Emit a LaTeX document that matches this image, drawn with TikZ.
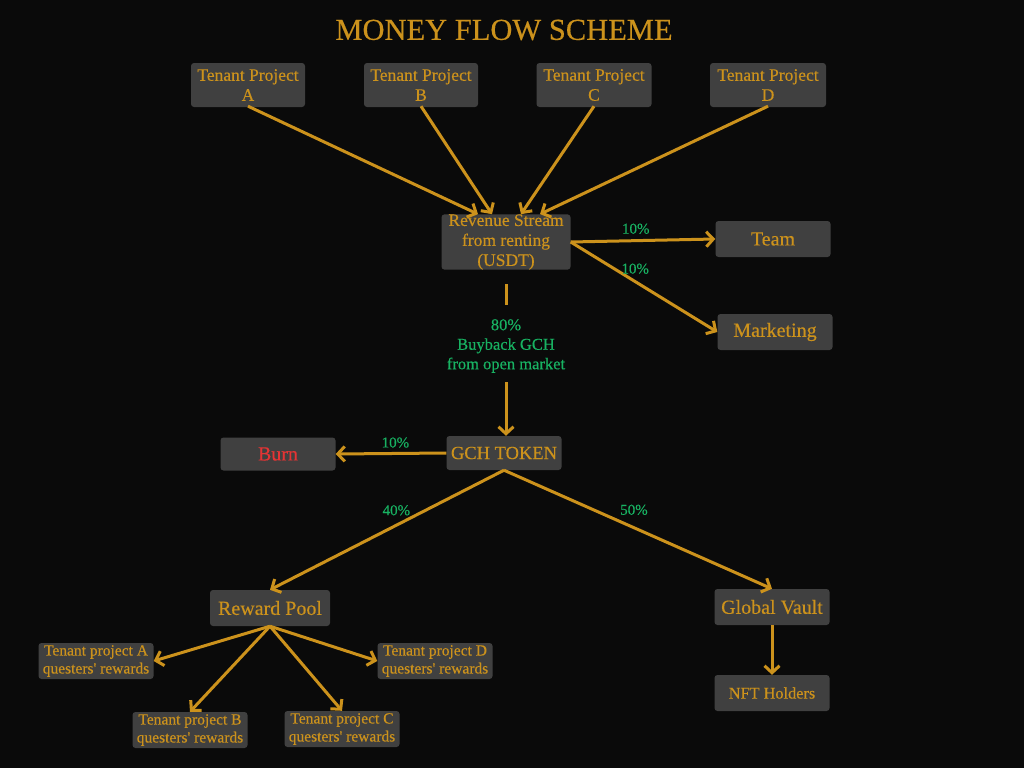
\documentclass[tikz,border=0pt]{standalone}
\usepackage{fontspec}
\setmainfont{Liberation Serif}[FakeBold=0.35]
\usetikzlibrary{positioning}
\usetikzlibrary{shapes,arrows.meta}
\definecolor{bgdark}{RGB}{10,10,10}
\definecolor{boxgray}{RGB}{64,64,64}
\definecolor{gold}{RGB}{204,146,28}
\definecolor{mint}{RGB}{24,178,98}
\definecolor{burnred}{RGB}{228,52,52}
\tikzstyle{block} = [rectangle, fill=boxgray, text=gold, rounded corners=3pt,
    align=center, inner sep=0pt, minimum width=115pt, minimum height=36pt,
    font=\fontsize{20}{20}\selectfont]
\tikzstyle{small} = [block, minimum height=44pt, font=\fontsize{17.5}{20}\selectfont]
\tikzstyle{reward} = [block, minimum height=36pt, font=\fontsize{15.5}{18}\selectfont]
\tikzstyle{pct} = [text=mint, align=center, font=\fontsize{15}{20}\selectfont]
\tikzstyle{line} = [draw, gold, line width=3pt, -{Straight Barb[length=7pt,width=15pt,line width=3pt]}]

\begin{document}
\begin{tikzpicture}[x=1pt, y=-1pt]
    \fill [bgdark] (0,0) rectangle (1024,768);
    \useasboundingbox (0,0) rectangle (1024,768);
        % Nodes
    \node [text=gold, font=\fontsize{30.5}{31}\selectfont] (title) at (504,30) {MONEY FLOW SCHEME};
    \node [small, minimum width=114pt] (ta) at (248,85) {Tenant Project\\A};
    \node [small, minimum width=114pt] (tb) at (421,85) {Tenant Project\\B};
    \node [small, minimum width=115pt] (tc) at (594,85) {Tenant Project\\C};
    \node [small, minimum width=116pt] (td) at (768,85) {Tenant Project\\D};
    \node [small, minimum width=129pt, minimum height=54pt] (rev) at (506,242) {Revenue Stream\\from renting\\(USDT)};
    \node [block] (team) at (773,239) {Team};
    \node [block] (mkt) at (775,332) {Marketing};
    \coordinate (stubtop) at (506,284);
    \coordinate (stubend) at (506,305);
    \node [pct, font=\fontsize{16.5}{19.5}\selectfont] (buy) at (506,346) {80\%\\Buyback GCH\\from open market};
    \node [block, minimum height=34pt, font=\fontsize{18.5}{20}\selectfont] (gch) at (504,453) {GCH TOKEN};
    \node [block, minimum height=33pt, text=burnred] (burn) at (278,454) {Burn};
    \node [block, minimum width=120pt] (pool) at (270,608) {Reward Pool};
    \node [block] (vault) at (772,607) {Global Vault};
    \node [block, font=\fontsize{16.3}{18}\selectfont] (nft) at (772,693) {NFT Holders};
    \node [reward] (ra) at (96,661) {Tenant project A\\questers\textquotesingle{} rewards};
    \node [reward] (rb) at (190,730) {Tenant project B\\questers\textquotesingle{} rewards};
    \node [reward] (rc) at (342,729) {Tenant project C\\questers\textquotesingle{} rewards};
    \node [reward] (rd) at (435,661) {Tenant project D\\questers\textquotesingle{} rewards};
        % Edges
    \path [line] ([yshift=1pt]ta.south) -- ([xshift=-28pt]rev.north);
    \path [line] ([yshift=1pt]tb.south) -- ([xshift=-14pt]rev.north);
    \path [line] ([yshift=1pt]tc.south) -- ([xshift=15pt]rev.north);
    \path [line] ([yshift=1pt]td.south) -- ([xshift=34pt]rev.north);
    \path [line] (rev.east) -- node [pct, pos=0.45, above=2pt] {10\%} (team.west);
    \path [line] (rev.east) -- node [pct, pos=0.44, above=3pt] {10\%} (mkt.west);
    \draw [gold, line width=3pt] (stubtop) -- (stubend);
    \path [line] ([yshift=-6pt]buy.south) -- (buy.south |- gch.north);
    \path [line] (gch.west) -- node [pct, pos=0.46, above=1pt] {10\%} (burn.east);
    \path [line] (gch.south) -- node [pct, pos=0.46, above=5pt] {40\%} (pool.north);
    \path [line] (gch.south) -- node [pct, pos=0.485, above=8pt] {50\%} (vault.north);
    \path [line] (vault.south) -- (nft.north);
    \path [line] (pool.south) -- (ra.east);
    \path [line] (pool.south) -- (rb.north);
    \path [line] (pool.south) -- (rc.north);
    \path [line] (pool.south) -- (rd.west);
\end{tikzpicture}
\end{document}
